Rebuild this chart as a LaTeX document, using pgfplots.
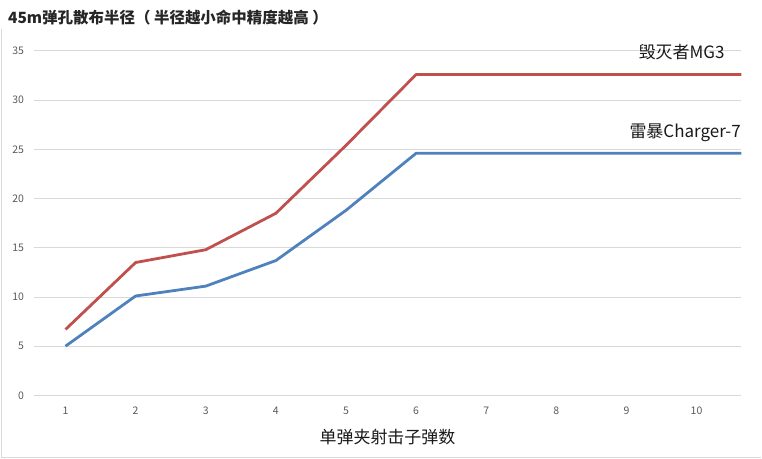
\documentclass[border=0pt]{standalone}
\usepackage{pgfplots}
\pgfplotsset{compat=1.18}
\usepackage{fontspec}
\setmainfont{Noto Sans CJK SC}
\definecolor{cred}{HTML}{C0504D}
\definecolor{cblue}{HTML}{4F81BD}
\definecolor{grid}{HTML}{D9D9D9}
\definecolor{tick}{HTML}{595959}
\begin{document}
\begin{tikzpicture}[x=1pt,y=1pt]
\path (0,0) rectangle (762,459);
\draw[color=grid, line width=1.2pt] (0.6,0) -- (0.6,430);
\draw[color=grid, line width=1.2pt] (0,1) -- (762,1);
\node[anchor=base west, font=\fontsize{15.5}{15.5}\selectfont\bfseries, text=black!85] at (4,435) {45m弹孔散布半径（ 半径越小命中精度越高 ）};
\begin{axis}[
  at={(33pt,63pt)}, anchor=south west,
  scale only axis, width=709pt, height=345pt,
  xmin=0.544, xmax=10.64, ymin=0, ymax=35,
  axis line style={draw=none},
  ytick={0,5,...,35}, xtick={1,...,10},
  ymajorgrids, grid style={color=grid, line width=0.9pt},
  major tick length=0pt,
  clip=false,
  yticklabel style={font=\fontsize{10.5}{10.5}\selectfont, text=tick, anchor=east, xshift=-6pt},
  xticklabel style={font=\fontsize{10.5}{10.5}\selectfont, text=tick, yshift=-8pt},
  /pgf/number format/assume math mode=true,
  xlabel={单弹夹射击子弹数},
  xlabel style={font=\fontsize{17}{17}\selectfont, text=black!90, yshift=-8pt},
]
\addplot[color=cred, line width=2.8pt, line join=round] coordinates {
 (1,6.7) (2,13.5) (3,14.8) (4,18.5) (5,25.4) (6,32.6) (7,32.6) (8,32.6) (9,32.6) (10,32.6) (10.64,32.6)};
\addplot[color=cblue, line width=2.8pt, line join=round] coordinates {
 (1,5.0) (2,10.1) (3,11.1) (4,13.7) (5,18.8) (6,24.6) (7,24.6) (8,24.6) (9,24.6) (10,24.6) (10.64,24.6)};
\node[anchor=east, font=\fontsize{17}{17}\selectfont, text=black!90] at (axis cs:10.45,34.9) {毁灭者MG3};
\node[anchor=east, font=\fontsize{17}{17}\selectfont, text=black!90] at (axis cs:10.68,26.7) {雷暴Charger-7};
\end{axis}
\end{tikzpicture}
\end{document}
